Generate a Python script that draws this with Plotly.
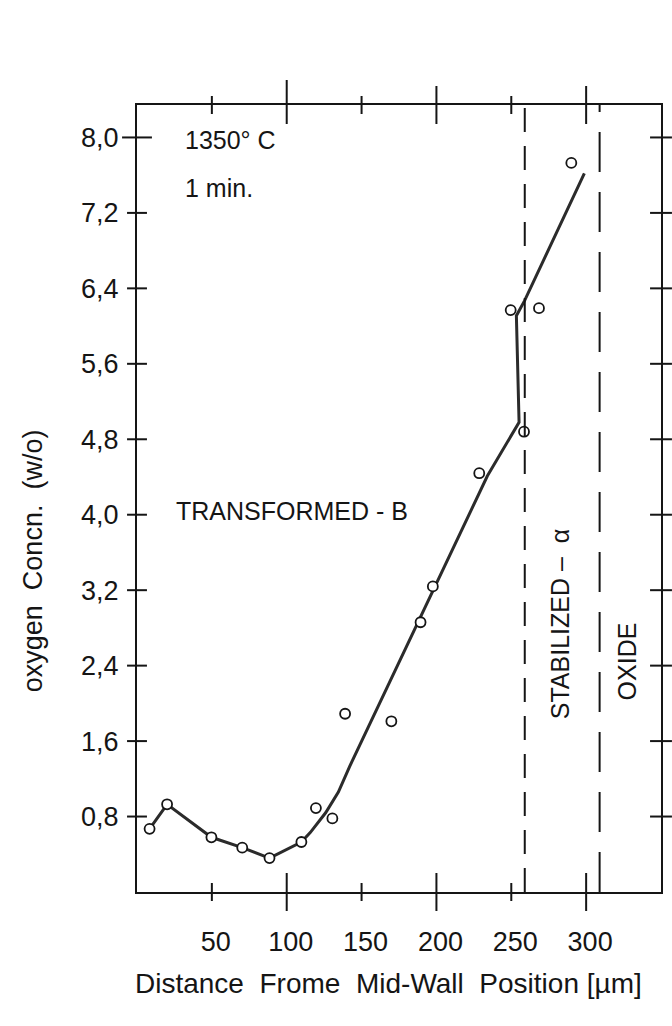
import plotly.graph_objects as go

# ---- data ----
x_pts = [8.4, 20.1, 49.7, 70.3, 88.5, 109.8, 119.5, 130.5, 139.0, 169.9,
         189.4, 197.6, 228.6, 249.6, 258.5, 268.5, 290.1]
y_pts = [0.67, 0.93, 0.58, 0.47, 0.36, 0.53, 0.89, 0.78, 1.89, 1.81,
         2.86, 3.24, 4.44, 6.17, 4.88, 6.19, 7.73]

fit_x = [8.4, 20.1, 49.7, 70.3, 88.5, 109.8, 115.7, 126.0, 134.5, 142.0,
         234.0, 255.2, 253.4, 258.9, 298.8]
fit_y = [0.67, 0.93, 0.58, 0.47, 0.36, 0.53, 0.63, 0.84, 1.06, 1.33,
         4.41, 4.98, 6.11, 6.27, 7.62]

x_tick_vals = [50, 100, 150, 200, 250, 300]
x_tick_text = ["50", "100", "150", "200", "250", "300"]
y_tick_vals = [0.8, 1.6, 2.4, 3.2, 4.0, 4.8, 5.6, 6.4, 7.2, 8.0]
y_tick_text = ["0,8", "1,6", "2,4", "3,2", "4,0", "4,8", "5,6", "6,4", "7,2", "8,0"]

boundary_x = [259, 309]

# ---- layout geometry ----
W, H = 672, 1026
L, R, T, B = 137, 8.5, 105, 133.5
pw = W - L - R
ph = H - T - B

INK = "#151515"
NUM_FONT = "Liberation Sans, Arial, sans-serif"
TXT_FONT = "Liberation Sans, Arial, sans-serif"
NB = "\u00a0"

fig = go.Figure()
fig.add_trace(go.Scatter(x=fit_x, y=fit_y, mode="lines",
                         line=dict(color="#2b2b2b", width=3), hoverinfo="skip"))
fig.add_trace(go.Scatter(x=x_pts, y=y_pts, mode="markers",
                         marker=dict(symbol="circle", size=10, color="white",
                                     line=dict(color=INK, width=1.8))))

shapes = []
# boundary dashed lines
shapes.append(dict(type="line", xref="x", yref="paper", x0=boundary_x[0], x1=boundary_x[0],
                   y0=0, y1=1, line=dict(color=INK, width=2, dash="24px,14px")))
shapes.append(dict(type="line", xref="x", yref="paper", x0=boundary_x[1], x1=boundary_x[1],
                   y0=0, y1=1, line=dict(color=INK, width=2, dash="40px,20px")))

# crossing tick marks on all four sides
for v in x_tick_vals:
    ln = 19 if v % 100 == 0 else 9
    d = ln / ph
    shapes.append(dict(type="line", xref="x", yref="paper", x0=v, x1=v, y0=-d, y1=d,
                       line=dict(color=INK, width=2)))
    up = (25 if v == 100 else ln) / ph
    shapes.append(dict(type="line", xref="x", yref="paper", x0=v, x1=v, y0=1 - d, y1=1 + up,
                       line=dict(color=INK, width=2)))
for v in y_tick_vals:
    ln = 15 if v == 8.0 else 10
    d = ln / pw
    shapes.append(dict(type="line", xref="paper", yref="y", x0=-d, x1=d, y0=v, y1=v,
                       line=dict(color=INK, width=2)))
    d2 = 11 / pw
    shapes.append(dict(type="line", xref="paper", yref="y", x0=1 - d2, x1=1 + d2, y0=v, y1=v,
                       line=dict(color=INK, width=2)))

annotations = [
    dict(x=30.5, y=7.97, xref="x", yref="y", text="1350° C", showarrow=False,
         xanchor="left", yanchor="middle", font=dict(family=TXT_FONT, size=25, color=INK)),
    dict(x=30.5, y=7.46, xref="x", yref="y", text="1 min.", showarrow=False,
         xanchor="left", yanchor="middle", font=dict(family=TXT_FONT, size=25, color=INK)),
    dict(x=25, y=4.04, xref="x", yref="y", text="TRANSFORMED - B", showarrow=False,
         xanchor="left", yanchor="middle", font=dict(family=TXT_FONT, size=25, color=INK)),
    dict(x=282.6, y=2.84, xref="x", yref="y", text="STABILIZED" + NB + "–" + NB * 2 + "α",
         showarrow=False, textangle=-90, xanchor="center", yanchor="middle",
         font=dict(family=TXT_FONT, size=25, color=INK)),
    dict(x=327, y=2.44, xref="x", yref="y", text="OXIDE", showarrow=False,
         textangle=-90, xanchor="center", yanchor="middle",
         font=dict(family=TXT_FONT, size=25, color=INK)),
    # axis titles
    dict(x=(390 - L) / pw, y=(H - B - 984) / ph, xref="paper", yref="paper",
         text="Distance" + NB * 2 + "Frome" + NB * 2 + "Mid-Wall" + NB * 2 + "Position [µm]",
         showarrow=False, xanchor="center", yanchor="middle",
         font=dict(family=TXT_FONT, size=28, color=INK)),
    dict(x=(32 - L) / pw, y=(H - B - 561) / ph, xref="paper", yref="paper",
         text="oxygen" + NB * 2 + "Concn." + NB * 2 + "(w/o)", showarrow=False, textangle=-90,
         xanchor="center", yanchor="middle", font=dict(family=TXT_FONT, size=27, color=INK)),
]

fig.update_layout(
    width=W, height=H,
    margin=dict(l=L, r=R, t=T, b=B, pad=0),
    paper_bgcolor="white", plot_bgcolor="white",
    showlegend=False,
    shapes=shapes,
    annotations=annotations,
)
fig.update_xaxes(range=[0, 350], showgrid=False, zeroline=False,
                 showline=True, linecolor=INK, linewidth=2, mirror=True,
                 ticks="", tickvals=x_tick_vals, ticktext=x_tick_text,
                 ticklabelstandoff=25, ticklabelshift=4,
                 tickfont=dict(family=NUM_FONT, size=27, color=INK))
fig.update_yaxes(range=[0, 8.344], showgrid=False, zeroline=False,
                 showline=True, linecolor=INK, linewidth=2, mirror=True,
                 ticks="", tickvals=y_tick_vals, ticktext=y_tick_text,
                 ticklabelstandoff=11,
                 tickfont=dict(family=NUM_FONT, size=27, color=INK))

fig.write_html("out.html")
